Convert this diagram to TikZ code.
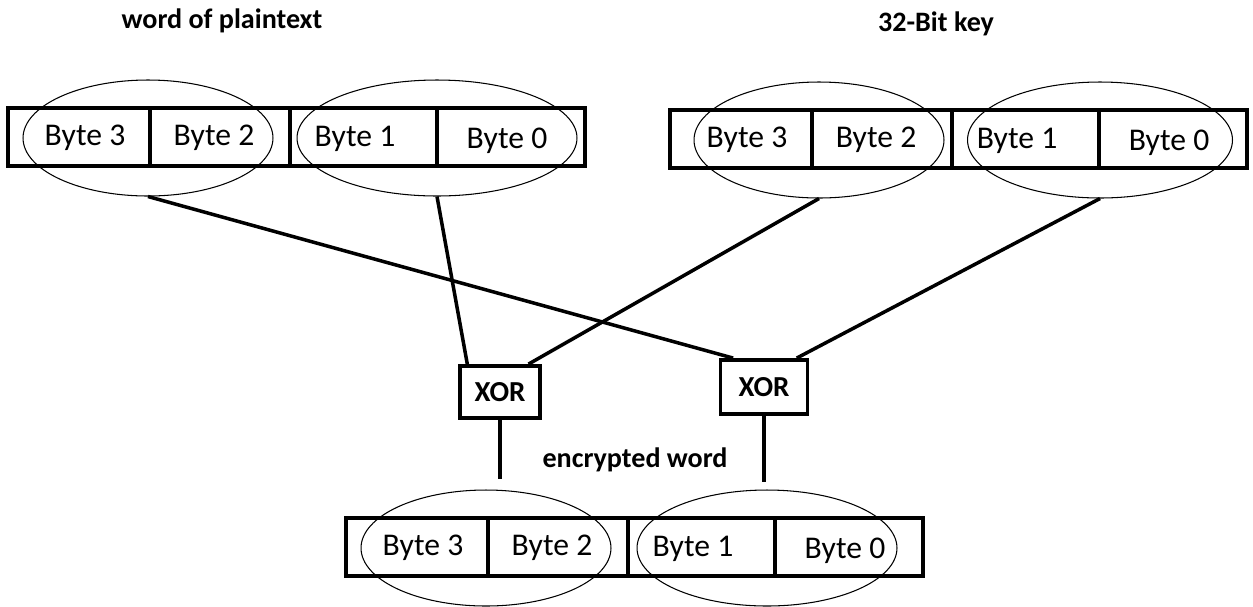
\documentclass[tikz,border=0pt]{standalone}
\usepackage{fontspec}
\setmainfont{Carlito}
\usetikzlibrary{positioning, shapes.geometric, calc}

\tikzset{
  regbox/.style={line width=2.5pt},
  bytetxt/.style={font=\fontsize{18}{20}\selectfont, inner sep=0pt},
  pairring/.style={ellipse, draw, line width=0.6pt, inner sep=0pt, minimum height=2.32cm},
  xorbox/.style={draw, line width=2.2pt, inner sep=0pt, font=\fontsize{16.5}{18}\bfseries},
  wire/.style={line width=2pt},
  title/.style={font=\fontsize{16}{18}\bfseries}
}

\begin{document}
\begin{tikzpicture}[x=0.02cm, y=-0.02cm]
\useasboundingbox (0,0) rectangle (1253,606);

% the three 32-bit registers
\foreach \n/\ox/\oy/\cl/\cr/\wr in {pt/0/0/148/437/5.6, key/662/2/157/438/5.3, enc/338/410/148/429/5.2}{
  \begin{scope}[shift={(\ox,\oy)}]
    \draw[regbox] (8,108) rectangle (585,166);
    \draw[regbox] (150,108) -- (150,166);
    \draw[regbox] (290,108) -- (290,166);
    \draw[regbox] (437,108) -- (437,166);
    \node[bytetxt] (\n-b3) at (85,138) {Byte 3};
    \node[bytetxt] (\n-b2) at (214,138) {Byte 2};
    \node[bytetxt] (\n-b1) at (355,139) {Byte 1};
    \node[bytetxt] (\n-b0) at (507,141) {Byte 0};
    % rings round the byte pairs
    \node[pairring, minimum width=5cm] (\n-hi) at (\cl,138) {};
    \node[pairring, minimum width=\wr cm] (\n-lo) at (\cr,138) {};
  \end{scope}
}

% titles
\node[title] (ptlabel) at (222,21) {word of plaintext};
\node[title] (keylabel) at (936,24) {32-Bit key};
\node[title] (enclabel) at (635,460) {encrypted word};

% xor gates
\node[xorbox, minimum width=1.6cm, minimum height=1.04cm] (xorL) at (500,392) {XOR};
\node[xorbox, minimum width=1.74cm, minimum height=1.08cm] (xorR) at (764,387) {XOR};

\coordinate (encL) at (500,479);
\coordinate (encR) at (764,482);

% inputs
\draw[wire] (pt-hi.south) -- ($(xorR.north west)!0.16!(xorR.north east)$);
\draw[wire] (pt-lo.south) -- ($(xorL.north west)!0.11!(xorL.north east)$);
\draw[wire] (key-hi.south) -- ($(xorL.north west)!0.84!(xorL.north east)$);
\draw[wire] (key-lo.south) -- ($(xorR.north west)!0.86!(xorR.north east)$);
% outputs
\draw[wire] (xorL.south) -- (encL);
\draw[wire] (xorR.south) -- (encR);
\end{tikzpicture}
\end{document}
